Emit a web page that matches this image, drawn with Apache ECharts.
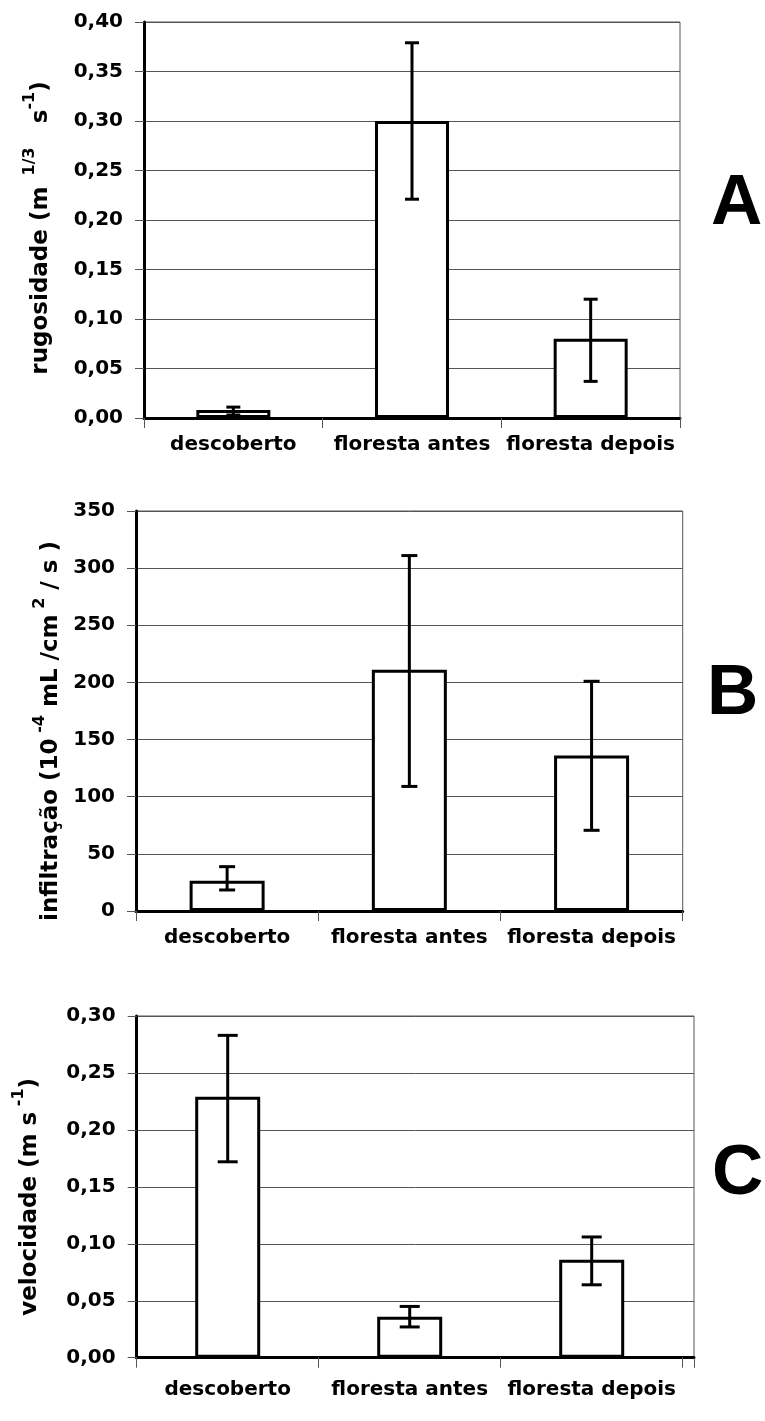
<!DOCTYPE html>
<html>
<head>
<meta charset="utf-8">
<script src="https://cdn.jsdelivr.net/npm/echarts@6/dist/echarts.min.js"></script>
<style>
  html, body { margin: 0; padding: 0; background: #fff; }
  #chart { width: 765px; height: 1421px; }
</style>
</head>
<body>
<div id="chart"></div>
<script>
// ---- data ----
const categories = ['descoberto', 'floresta antes', 'floresta depois'];

const rugosidade     = [0.008, 0.300, 0.080];
const rugosidadeLow  = [0.003, 0.221, 0.037];
const rugosidadeHigh = [0.011, 0.379, 0.120];

const infiltracao     = [26.5, 211, 136];
const infiltracaoLow  = [18.4, 109, 70.6];
const infiltracaoHigh = [38.8, 311, 201];

const velocidade     = [0.229, 0.036, 0.086];
const velocidadeLow  = [0.172, 0.027, 0.064];
const velocidadeHigh = [0.283, 0.045, 0.106];

const yRangeA = [0, 0.40, 0.05];
const yRangeB = [0, 350, 50];
const yRangeC = [0, 0.30, 0.05];

const panelLetters = ['A', 'B', 'C'];

// ---- chart ----
const FONT = 'DejaVu Sans';
const panels = [
  { grid: { left: 144, top: 22, width: 536, height: 396 }, xMax: 3, range: yRangeA, dec: 2,
    vals: rugosidade, lo: rugosidadeLow, hi: rugosidadeHigh, barW: 74, cap: 7, labelMargin: 17,
    name: '{t|rugosidade (m}{s|  1/3}{t|   s}{s|-1}{t|)}', nameGap: 84, namePad: 16,
    letter: { x: 711, y: 204 } },
  { grid: { left: 136, top: 511, width: 546.7, height: 400 }, xMax: 3, range: yRangeB, dec: 0,
    vals: infiltracao, lo: infiltracaoLow, hi: infiltracaoHigh, barW: 75, cap: 8, labelMargin: 17,
    name: '{t|infiltração (10}{s| -4}{t| mL /cm}{s| 2}{t| / s )}', nameGap: 66, namePad: 40,
    letter: { x: 707, y: 694 } },
  { grid: { left: 136.7, top: 1016, width: 557.3, height: 341.7 }, xMax: 557.3 / 182, range: yRangeC, dec: 2,
    vals: velocidade, lo: velocidadeLow, hi: velocidadeHigh, barW: 65, cap: 10, labelMargin: 22,
    name: '{t|velocidade (m s}{s| -1}{t|)}', nameGap: 88, namePad: 20,
    letter: { x: 712, y: 1174 } }
];

const grids = [], xAxes = [], yAxes = [], series = [], graphics = [];

panels.forEach((p, k) => {
  grids.push(Object.assign({ show: true, borderColor: '#555', borderWidth: 1, backgroundColor: 'transparent' }, p.grid));

  xAxes.push({
    type: 'value', gridIndex: k, min: 0, max: p.xMax, interval: 1, position: 'bottom',
    axisLine: { show: true, onZero: false, lineStyle: { color: '#000', width: 3 } },
    axisTick: { show: true, length: 10, lineStyle: { color: '#555', width: 1 } },
    axisLabel: { show: false }, splitLine: { show: false }
  });
  xAxes.push({
    type: 'value', gridIndex: k, min: 0, max: p.xMax, interval: 0.5, position: 'bottom',
    axisLine: { show: false }, axisTick: { show: false }, splitLine: { show: false },
    axisLabel: {
      show: true, margin: p.labelMargin, color: '#000', fontFamily: FONT, fontWeight: 'bold', fontSize: 20,
      showMinLabel: true, showMaxLabel: true,
      formatter: v => {
        const i = v - 0.5;
        if (Math.abs(i - Math.round(i)) < 1e-6 && Math.round(i) >= 0 && Math.round(i) < categories.length) return categories[Math.round(i)];
        return '';
      }
    }
  });

  yAxes.push({
    type: 'value', gridIndex: k, min: p.range[0], max: p.range[1], interval: p.range[2],
    axisLine: { show: true, lineStyle: { color: '#000', width: 3 } },
    axisTick: { show: true, length: 9, lineStyle: { color: '#555', width: 1 } },
    splitLine: { show: true, lineStyle: { color: '#555', width: 1 } },
    axisLabel: {
      margin: 21, color: '#000', fontFamily: FONT, fontWeight: 'bold', fontSize: 20,
      formatter: v => v.toFixed(p.dec).replace('.', ',')
    },
    name: p.name, nameLocation: 'middle', nameRotate: 90, nameGap: p.nameGap,
    nameTextStyle: {
      color: '#000', fontFamily: FONT, fontWeight: 'bold', fontSize: 23,
      padding: [0, p.namePad, 0, 0],
      rich: {
        t: { color: '#000', fontFamily: FONT, fontWeight: 'bold', fontSize: 23, lineHeight: 38 },
        s: { color: '#000', fontFamily: FONT, fontWeight: 'bold', fontSize: 16, lineHeight: 18, verticalAlign: 'top' }
      }
    }
  });

  series.push({
    type: 'bar', xAxisIndex: 2 * k, yAxisIndex: k, barWidth: p.barW, z: 2,
    itemStyle: { color: '#fff', borderColor: '#000', borderWidth: 3 },
    data: categories.map((c, i) => [i + 0.5, p.vals[i]]),
    animation: false
  });

  const cap = p.cap;
  series.push({
    type: 'custom', xAxisIndex: 2 * k, yAxisIndex: k, z: 5,
    data: categories.map((c, i) => [i + 0.5, p.lo[i], p.hi[i]]),
    renderItem: (params, api) => {
      const x = api.value(0);
      const a = api.coord([x, api.value(1)]);
      const b = api.coord([x, api.value(2)]);
      const st = { stroke: '#000', lineWidth: 3 };
      return {
        type: 'group',
        children: [
          { type: 'line', shape: { x1: a[0], y1: a[1], x2: b[0], y2: b[1] }, style: st },
          { type: 'line', shape: { x1: a[0] - cap, y1: a[1], x2: a[0] + cap, y2: a[1] }, style: st },
          { type: 'line', shape: { x1: b[0] - cap, y1: b[1], x2: b[0] + cap, y2: b[1] }, style: st }
        ]
      };
    },
    animation: false
  });

  graphics.push({
    type: 'text', left: p.letter.x, top: p.letter.y - 35,
    style: { text: panelLetters[k], fill: '#000', font: 'bold 71px "Liberation Sans", Arial, sans-serif' }
  });
});

const chart = echarts.init(document.getElementById('chart'), null, { renderer: 'canvas' });
chart.setOption({
  backgroundColor: '#fff',
  animation: false,
  grid: grids,
  xAxis: xAxes,
  yAxis: yAxes,
  series: series,
  graphic: graphics
});
</script>
</body>
</html>
